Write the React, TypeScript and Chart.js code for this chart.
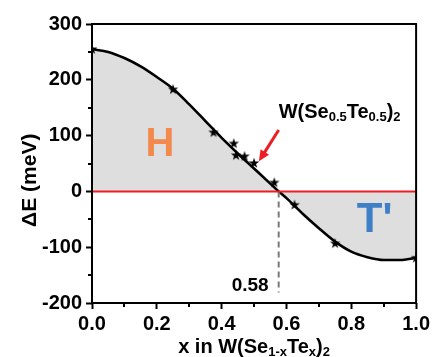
import React, { useEffect, useRef } from 'react';
import { Chart, registerables } from 'chart.js';

Chart.register(...registerables);

// Fitted curve
const curveX = [0, 0.05, 0.1, 0.15, 0.2, 0.25, 0.3, 0.35, 0.4, 0.45, 0.5, 0.55, 0.576, 0.6, 0.65, 0.7, 0.75, 0.8, 0.85, 0.9, 0.95, 1.0];
const curveY = [255, 250, 239, 224, 205, 184, 156, 126, 96, 68, 41, 14, 0, -12, -40, -66, -90, -108, -118, -123, -123, -119];

// Computed points (stars)
const starX = [0, 0.25, 0.375, 0.4375, 0.4444, 0.4706, 0.5, 0.5625, 0.625, 0.75, 1.0];
const starY = [255, 183, 106, 86, 65, 63, 51, 16, -24, -93, -119];

// Crossing
const crossX = [0.576, 0.576];
const crossY = [0, -181];
const zeroX = [0, 1];
const zeroY = [0, 0];

const xTicks = [0, 0.2, 0.4, 0.6, 0.8, 1.0];
const xMinor = [0.1, 0.3, 0.5, 0.7, 0.9];
const yTicks = [-200, -100, 0, 100, 200, 300];
const yMinor = [-150, -50, 50, 150, 250];

const FONT = '"Liberation Sans", Arial, Helvetica, sans-serif';

function makeStar(): HTMLCanvasElement {
  const c = document.createElement('canvas');
  c.width = 12;
  c.height = 12;
  const g = c.getContext('2d')!;
  g.fillStyle = '#000';
  g.beginPath();
  for (let i = 0; i < 10; i++) {
    const r = i % 2 === 0 ? 5.5 : 2.1;
    const a = -Math.PI / 2 + (i * Math.PI) / 5;
    const px = 6 + r * Math.cos(a);
    const py = 6.3 + r * Math.sin(a);
    if (i === 0) g.moveTo(px, py);
    else g.lineTo(px, py);
  }
  g.closePath();
  g.fill();
  return c;
}

type Seg = { t: string; sub?: boolean };

function drawRich(ctx: CanvasRenderingContext2D, segs: Seg[], x: number, y: number, size: number, subSize: number, align: 'left' | 'center') {
  const fontOf = (s: Seg) => `bold ${s.sub ? subSize : size}px ${FONT}`;
  let total = 0;
  for (const s of segs) {
    ctx.font = fontOf(s);
    total += ctx.measureText(s.t).width;
  }
  let cx = align === 'center' ? x - total / 2 : x;
  ctx.textAlign = 'left';
  ctx.textBaseline = 'alphabetic';
  for (const s of segs) {
    ctx.font = fontOf(s);
    ctx.fillText(s.t, cx, s.sub ? y + size * 0.15 : y);
    cx += ctx.measureText(s.t).width;
  }
}

const annotPlugin = {
  id: 'annot',
  afterDraw(chart: any) {
    const { ctx, chartArea } = chart;
    const xs = chart.scales.x;
    const ys = chart.scales.y;
    ctx.save();
    // Box frame
    ctx.strokeStyle = '#000';
    ctx.lineWidth = 2;
    ctx.strokeRect(chartArea.left, chartArea.top, chartArea.right - chartArea.left, chartArea.bottom - chartArea.top);

    // Minor ticks (shorter)
    ctx.lineWidth = 2;
    ctx.beginPath();
    for (const v of xMinor) {
      const px = Math.round(xs.getPixelForValue(v));
      ctx.moveTo(px, chartArea.bottom);
      ctx.lineTo(px, chartArea.bottom + 4);
    }
    for (const v of yMinor) {
      const py = Math.round(ys.getPixelForValue(v));
      ctx.moveTo(chartArea.left, py);
      ctx.lineTo(chartArea.left - 4, py);
    }
    ctx.stroke();

    ctx.fillStyle = '#000';
    // Labels H and T'
    ctx.textAlign = 'center';
    ctx.textBaseline = 'middle';
    ctx.font = `bold 40px ${FONT}`;
    ctx.fillStyle = '#f4894d';
    ctx.fillText('H', xs.getPixelForValue(0.21), ys.getPixelForValue(84));
    ctx.fillStyle = '#3f7fc8';
    ctx.font = `bold 42px ${FONT}`;
    ctx.fillText("T'", xs.getPixelForValue(0.872), ys.getPixelForValue(-52));

    // W(Se0.5Te0.5)2
    ctx.fillStyle = '#000';
    drawRich(ctx, [
      { t: 'W(Se' }, { t: '0.5', sub: true }, { t: 'Te' }, { t: '0.5', sub: true }, { t: ')' }, { t: '2', sub: true },
    ], xs.getPixelForValue(0.576), ys.getPixelForValue(131), 20, 13, 'left');

    // 0.58
    ctx.font = `bold 19px ${FONT}`;
    ctx.textAlign = 'center';
    ctx.textBaseline = 'alphabetic';
    ctx.fillText('0.58', xs.getPixelForValue(0.488), ys.getPixelForValue(-178));

    // Arrow
    const x0 = xs.getPixelForValue(0.576), y0 = ys.getPixelForValue(110);
    const x1 = xs.getPixelForValue(0.515), y1 = ys.getPixelForValue(54);
    const ang = Math.atan2(y1 - y0, x1 - x0);
    const hl = 11, hw = 5;
    ctx.strokeStyle = '#ee1c25';
    ctx.fillStyle = '#ee1c25';
    ctx.lineWidth = 3;
    ctx.beginPath();
    ctx.moveTo(x0, y0);
    ctx.lineTo(x1 - hl * Math.cos(ang) * 0.8, y1 - hl * Math.sin(ang) * 0.8);
    ctx.stroke();
    ctx.beginPath();
    ctx.moveTo(x1, y1);
    ctx.lineTo(x1 - hl * Math.cos(ang) - hw * Math.sin(ang), y1 - hl * Math.sin(ang) + hw * Math.cos(ang));
    ctx.lineTo(x1 - hl * Math.cos(ang) + hw * Math.sin(ang), y1 - hl * Math.sin(ang) - hw * Math.cos(ang));
    ctx.closePath();
    ctx.fill();

    // Axis titles
    ctx.fillStyle = '#000';
    ctx.save();
    ctx.translate(chartArea.left - 62, ys.getPixelForValue(20));
    ctx.rotate(-Math.PI / 2);
    ctx.font = `bold 21px ${FONT}`;
    ctx.textAlign = 'center';
    ctx.textBaseline = 'middle';
    ctx.fillText('ΔE (meV)', 0, 0);
    ctx.restore();

    drawRich(ctx, [
      { t: 'x in W(Se' }, { t: '1-x', sub: true }, { t: 'Te' }, { t: 'x', sub: true }, { t: ')' }, { t: '2', sub: true },
    ], (chartArea.left + chartArea.right) / 2, chart.height - 4, 20, 13, 'center');
    ctx.restore();
  },
};

export default function App() {
  const ref = useRef<HTMLCanvasElement>(null);
  useEffect(() => {
    if (!ref.current) return;
    const star = makeStar();
    const chart = new Chart(ref.current, {
      type: 'line',
      data: {
        datasets: [
          {
            label: 'stars',
            data: starX.map((x, i) => ({ x, y: starY[i] })),
            showLine: false,
            pointStyle: star as any,
            pointRadius: 6,
            order: 0,
          } as any,
          {
            label: 'curve',
            data: curveX.map((x, i) => ({ x, y: curveY[i] })),
            borderColor: '#000',
            borderWidth: 2.6,
            pointRadius: 0,
            cubicInterpolationMode: 'monotone',
            fill: 'origin',
            backgroundColor: '#dedede',
            order: 1,
          },
          {
            label: 'zero',
            data: zeroX.map((x, i) => ({ x, y: zeroY[i] })),
            borderColor: '#ee1c25',
            borderWidth: 2,
            pointRadius: 0,
            fill: false,
            order: 0.5,
          },
          {
            label: 'cross',
            data: crossX.map((x, i) => ({ x, y: crossY[i] })),
            borderColor: '#7a7a7a',
            borderWidth: 2,
            borderDash: [6, 4],
            pointRadius: 0,
            fill: false,
            order: 0.7,
          },
        ],
      },
      options: {
        responsive: false,
        animation: false,
        layout: { padding: { top: 24, right: 10, left: 0, bottom: 0 } },
        plugins: { legend: { display: false }, tooltip: { enabled: false } },
        scales: {
          x: {
            type: 'linear',
            min: 0,
            max: 1,
            afterFit: (s: any) => { s.height = 54; },
            afterBuildTicks: (s: any) => {
              s.ticks = xTicks.map((v) => ({ value: v }));
            },
            ticks: {
              autoSkip: false,
              maxRotation: 0,
              padding: 3,
              color: '#000',
              font: { family: FONT, size: 20, weight: 'bold' },
              callback: (v: any) => Number(v).toFixed(1),
            },
            grid: { drawOnChartArea: false, drawTicks: true, tickLength: 6, tickWidth: 2, color: '#000' },
            border: { display: false },
          },
          y: {
            type: 'linear',
            min: -200,
            max: 300,
            afterFit: (s: any) => { s.width = 92; },
            afterBuildTicks: (s: any) => {
              s.ticks = yTicks.map((v) => ({ value: v }));
            },
            ticks: {
              autoSkip: false,
              padding: 4,
              color: '#000',
              font: { family: FONT, size: 20, weight: 'bold' },
              callback: (v: any) => String(v),
            },
            grid: { drawOnChartArea: false, drawTicks: true, tickLength: 6, tickWidth: 2, color: '#000' },
            border: { display: false },
          },
        },
      },
      plugins: [annotPlugin],
    });
    return () => chart.destroy();
  }, []);
  return (
    <div style={{ position: 'absolute', left: 0, top: 0, width: 433, height: 357, background: '#fff' }}>
      <canvas ref={ref} width={433} height={357} style={{ display: 'block' }} />
    </div>
  );
}
